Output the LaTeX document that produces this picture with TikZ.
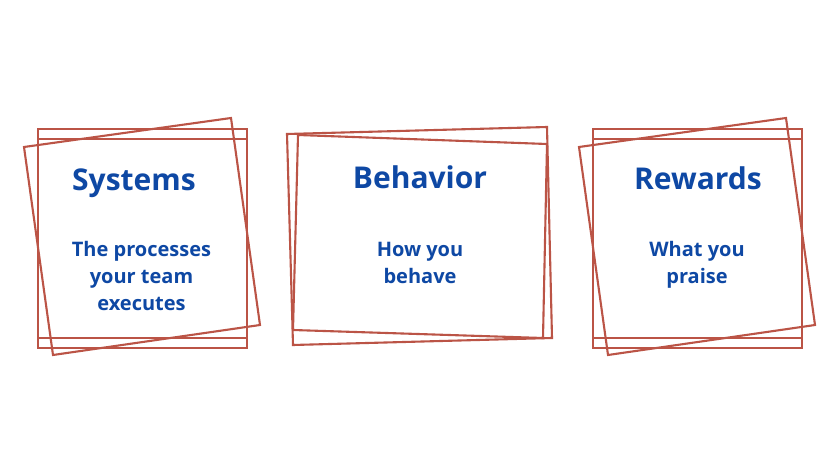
\documentclass[tikz,border=0pt]{standalone}
\usepackage{fontspec}
\setmainfont{Open Sans}
\definecolor{framered}{RGB}{187,84,70}
\definecolor{inkblue}{RGB}{14,72,164}
\begin{document}
\begin{tikzpicture}[x=1pt,y=-1pt,
  frameline/.style={draw=framered,line width=2.1pt,line join=miter},
  titletext/.style={text=inkblue,font=\bfseries\fontsize{30}{36}\selectfont,anchor=base,inner sep=0pt},
  subtext/.style={text=inkblue,font=\bfseries\fontsize{20}{27}\selectfont,anchor=base,align=center,inner sep=0pt}]
\useasboundingbox[fill=white] (0,0) rectangle (840,473);

% Box 1: Systems
\draw[frameline] (38,129) rectangle (247,348);
\draw[frameline] (38,139) rectangle (247,338);
\draw[frameline] (24,147) -- (231,118) -- (260,325) -- (53,355) -- cycle;
\node[titletext] (systitle) at (134,190) {Systems};
\node[subtext] (systext) at (141.5,310) {The processes\\your team\\executes};

% Box 2: Behavior
\draw[frameline] (287,134) -- (547,127) -- (552,338) -- (293,345) -- cycle;
\draw[frameline] (298,135) -- (547,144) -- (543,338) -- (293,330) -- cycle;
\node[titletext] (behtitle) at (420,189) {Behavior};
\node[subtext] (behtext) at (420,283) {How you\\behave};

% Box 3: Rewards
\begin{scope}[xshift=555pt]
\draw[frameline] (38,129) rectangle (247,348);
\draw[frameline] (38,139) rectangle (247,338);
\draw[frameline] (24,147) -- (231,118) -- (260,325) -- (53,355) -- cycle;
\end{scope}
\node[titletext] (rewtitle) at (698,189.5) {Rewards};
\node[subtext] (rewtext) at (697,283) {What you\\praise};
\end{tikzpicture}
\end{document}
